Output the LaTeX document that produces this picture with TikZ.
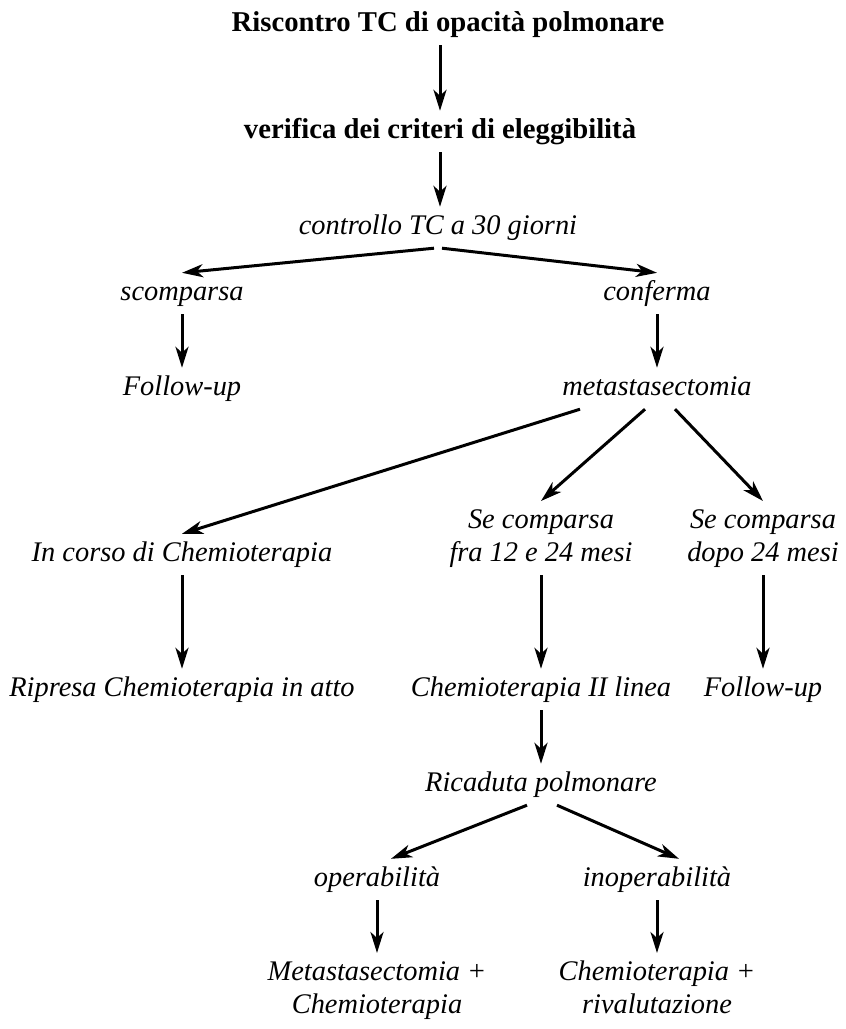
\documentclass[tikz,border=0pt]{standalone}
\usepackage{fontspec}
\setmainfont{Liberation Serif}
\usetikzlibrary{arrows.meta}

\begin{document}
\begin{tikzpicture}[x=1pt, y=-1pt, >={Stealth[length=21pt, width=13pt, inset=6pt]},
      e/.style={font=\fontsize{28.4}{33}\selectfont\itshape, inner xsep=0pt, inner ysep=8pt,
                text height=19pt, text depth=6pt, anchor=base},
      ee/.style={font=\fontsize{28.4}{33}\selectfont\itshape, inner xsep=0pt, inner ysep=8pt,
                align=center, anchor=north},
      t/.style={e, font=\fontsize{28.7}{33}\selectfont\bfseries},
      f/.style={->, line width=3pt}]
    \useasboundingbox (0,0) rectangle (846,1029);
    \node[t] (risc) at (448,31) {Riscontro TC di opacità polmonare};
    \node[t] (verif) at (440,138) {verifica dei criteri di eleggibilità};
    \node[e] (ctrl) at (438,234) {controllo TC a 30 giorni};
    \node[e] (scomp) at (182,300) {scomparsa};
    \node[e] (conf) at (657,300) {conferma};
    \node[e] (fu1) at (182,395) {Follow-up};
    \node[e] (meta) at (657,395) {metastasectomia};
    \node[e] (corso) at (182,561) {In corso di Chemioterapia};
    \node[ee] (se1) at (541,501) {Se comparsa\\fra 12 e 24 mesi};
    \node[ee] (se2) at (763,501) {Se comparsa\\dopo 24 mesi};
    \node[e] (ripresa) at (182,696) {Ripresa Chemioterapia in atto};
    \node[e] (linea) at (541,696) {Chemioterapia II linea};
    \node[e] (fu2) at (763,696) {Follow-up};
    \node[e] (ricad) at (541,791) {Ricaduta polmonare};
    \node[e] (oper) at (377,886) {operabilità};
    \node[e] (inop) at (657,886) {inoperabilità};
    \node[ee] (mc) at (377,953) {Metastasectomia +\\Chemioterapia};
    \node[ee] (cr) at (657,953) {Chemioterapia +\\rivalutazione};
    \draw[f] (risc.south -| verif.north) -- (verif.north);
    \draw[f] (verif.south) -- (verif.south |- ctrl.north);
    \draw[f] ([xshift=-4pt]ctrl.south) -- (scomp.north);
    \draw[f] ([xshift=4pt]ctrl.south) -- (conf.north);
    \draw[f] (scomp) -- (fu1);
    \draw[f] (conf) -- (meta);
    \draw[f] ([xshift=-77pt]meta.south) -- (corso.north);
    \draw[f] ([xshift=-12pt]meta.south) -- (se1.north);
    \draw[f] ([xshift=18pt]meta.south) -- (se2.north);
    \draw[f] (corso) -- (ripresa);
    \draw[f] (se1) -- (linea);
    \draw[f] (se2) -- (fu2);
    \draw[f] (linea) -- (ricad);
    \draw[f] ([xshift=-14pt]ricad.south) -- ([xshift=14pt]oper.north);
    \draw[f] ([xshift=16pt]ricad.south) -- ([xshift=22pt]inop.north);
    \draw[f] (oper) -- (mc);
    \draw[f] (inop) -- (cr);
  \end{tikzpicture}
\end{document}
